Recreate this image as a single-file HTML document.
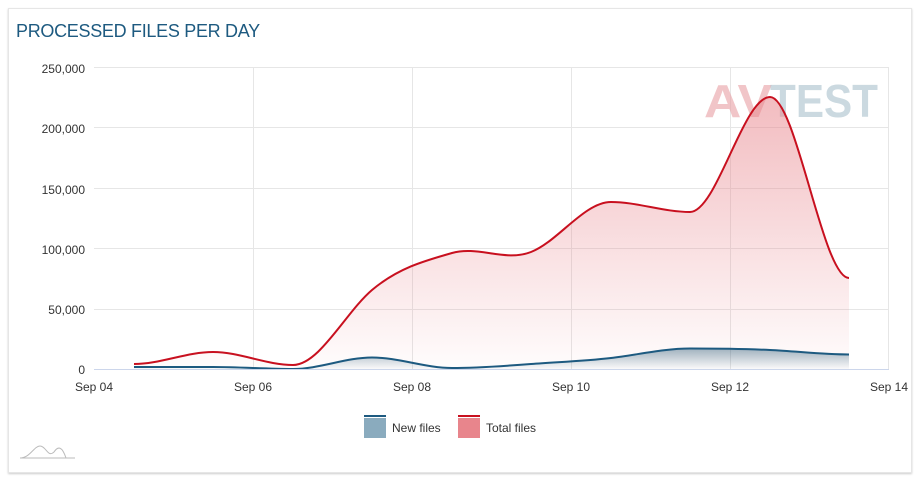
<!DOCTYPE html>
<html><head><meta charset="utf-8"><style>
body{margin:0;background:#fff;width:919px;height:480px;overflow:hidden;font-family:"Liberation Sans",sans-serif}
.card{position:absolute;left:8px;top:8px;width:902px;height:463px;border:1px solid #e6e6e6;box-shadow:0 1px 2px rgba(0,0,0,.2)}
.title{position:absolute;left:16px;top:21px;font-size:18px;color:#1d5a80;letter-spacing:-0.3px}
</style></head><body>
<div class="card"></div>
<div class="title">PROCESSED FILES PER DAY</div>
<svg id="s" width="919" height="480" style="position:absolute;left:0;top:0" font-family="Liberation Sans, sans-serif">
<defs>
<linearGradient id="gr" x1="0" y1="0" x2="0" y2="1"><stop offset="0" stop-color="#e8858c" stop-opacity="0.55"/><stop offset="1" stop-color="#e8858c" stop-opacity="0.02"/></linearGradient>
<linearGradient id="gb" x1="0" y1="0" x2="0" y2="1"><stop offset="0" stop-color="#2d5c78" stop-opacity="0.45"/><stop offset="1" stop-color="#2d5c78" stop-opacity="0.02"/></linearGradient>
</defs>
<g stroke="#e6e6e6" stroke-width="1">
<line x1="94" x2="889" y1="67.5" y2="67.5"/><line x1="94" x2="889" y1="127.5" y2="127.5"/><line x1="94" x2="889" y1="188.5" y2="188.5"/><line x1="94" x2="889" y1="248.5" y2="248.5"/><line x1="94" x2="889" y1="309.5" y2="309.5"/>
<line x1="253.5" x2="253.5" y1="67" y2="369"/><line x1="412.5" x2="412.5" y1="67" y2="369"/><line x1="571.5" x2="571.5" y1="67" y2="369"/><line x1="730.5" x2="730.5" y1="67" y2="369"/><line x1="888.5" x2="888.5" y1="67" y2="369"/>
</g>
<text x="704" y="117" font-size="46" font-weight="bold" fill="#e8a0a4" opacity="0.6" textLength="68" lengthAdjust="spacingAndGlyphs">AV</text>
<text x="770" y="117" font-size="46" font-weight="bold" fill="#a9c0cc" opacity="0.6" textLength="108" lengthAdjust="spacingAndGlyphs">TEST</text>
<path id="rf" fill="url(#gr)"/><path id="rl" fill="none" stroke="#c8101f" stroke-width="2"/>
<path id="bf" fill="url(#gb)"/><path id="bl" fill="none" stroke="#1d5a80" stroke-width="2"/>
<line x1="94" x2="889" y1="369.5" y2="369.5" stroke="#ccd6eb"/>
<g font-size="12" fill="#333" text-anchor="end">
<text x="85" y="73">250,000</text><text x="85" y="133">200,000</text><text x="85" y="194">150,000</text><text x="85" y="254">100,000</text><text x="85" y="314">50,000</text><text x="85" y="374">0</text>
</g>
<g font-size="12" fill="#333" text-anchor="middle">
<text x="94" y="391">Sep 04</text><text x="253" y="391">Sep 06</text><text x="412" y="391">Sep 08</text><text x="571" y="391">Sep 10</text><text x="730" y="391">Sep 12</text><text x="889" y="391">Sep 14</text>
</g>
<rect x="364" y="418" width="22" height="20" fill="#8aabbe"/><line x1="364" x2="386" y1="416" y2="416" stroke="#1d5a80" stroke-width="2"/>
<text x="392" y="432" font-size="12" fill="#333">New files</text>
<rect x="458" y="418" width="22" height="20" fill="#e8858c"/><line x1="458" x2="480" y1="416" y2="416" stroke="#c8101f" stroke-width="2"/>
<text x="486" y="432" font-size="12" fill="#333">Total files</text>
<path d="M20 458 C30 458 34 446 40 446 C46 446 48 458 54 452 C58 446 62 446 66 458 M20 458 L75 458" fill="none" stroke="#bbb" stroke-width="1"/>
</svg>
<script>
var xs=[134,213,293,372,452,531,611,690,770,849];
var r=[364,352,365,290,253,252,202,212,97,278];
var b=[367,367,369,357.5,368,364,358,348.5,350,354.5];
function sp(y){var d="M"+xs[0]+" "+y[0];for(var i=0;i<xs.length-1;i++){var x0=xs[i],x1=xs[i+1],yp=y[i-1]!==undefined?y[i-1]:y[i],yn=y[i+2]!==undefined?y[i+2]:y[i+1];
var t0=(y[i+1]-yp)/2,t1=(yn-y[i])/2;
if((y[i]-yp)*(y[i+1]-y[i])<=0)t0=0;if((y[i+1]-y[i])*(yn-y[i+1])<=0)t1=0;
var dx=(x1-x0)/3;d+=" C"+(x0+dx)+" "+(y[i]+t0/3*1.2)+" "+(x1-dx)+" "+(y[i+1]-t1/3*1.2)+" "+x1+" "+y[i+1];}return d;}
var R=sp(r),B=sp(b);
document.getElementById("rl").setAttribute("d",R);document.getElementById("rf").setAttribute("d",R+" L849 369 L134 369Z");
document.getElementById("bl").setAttribute("d",B);document.getElementById("bf").setAttribute("d",B+" L849 369 L134 369Z");
</script>
</body></html>
